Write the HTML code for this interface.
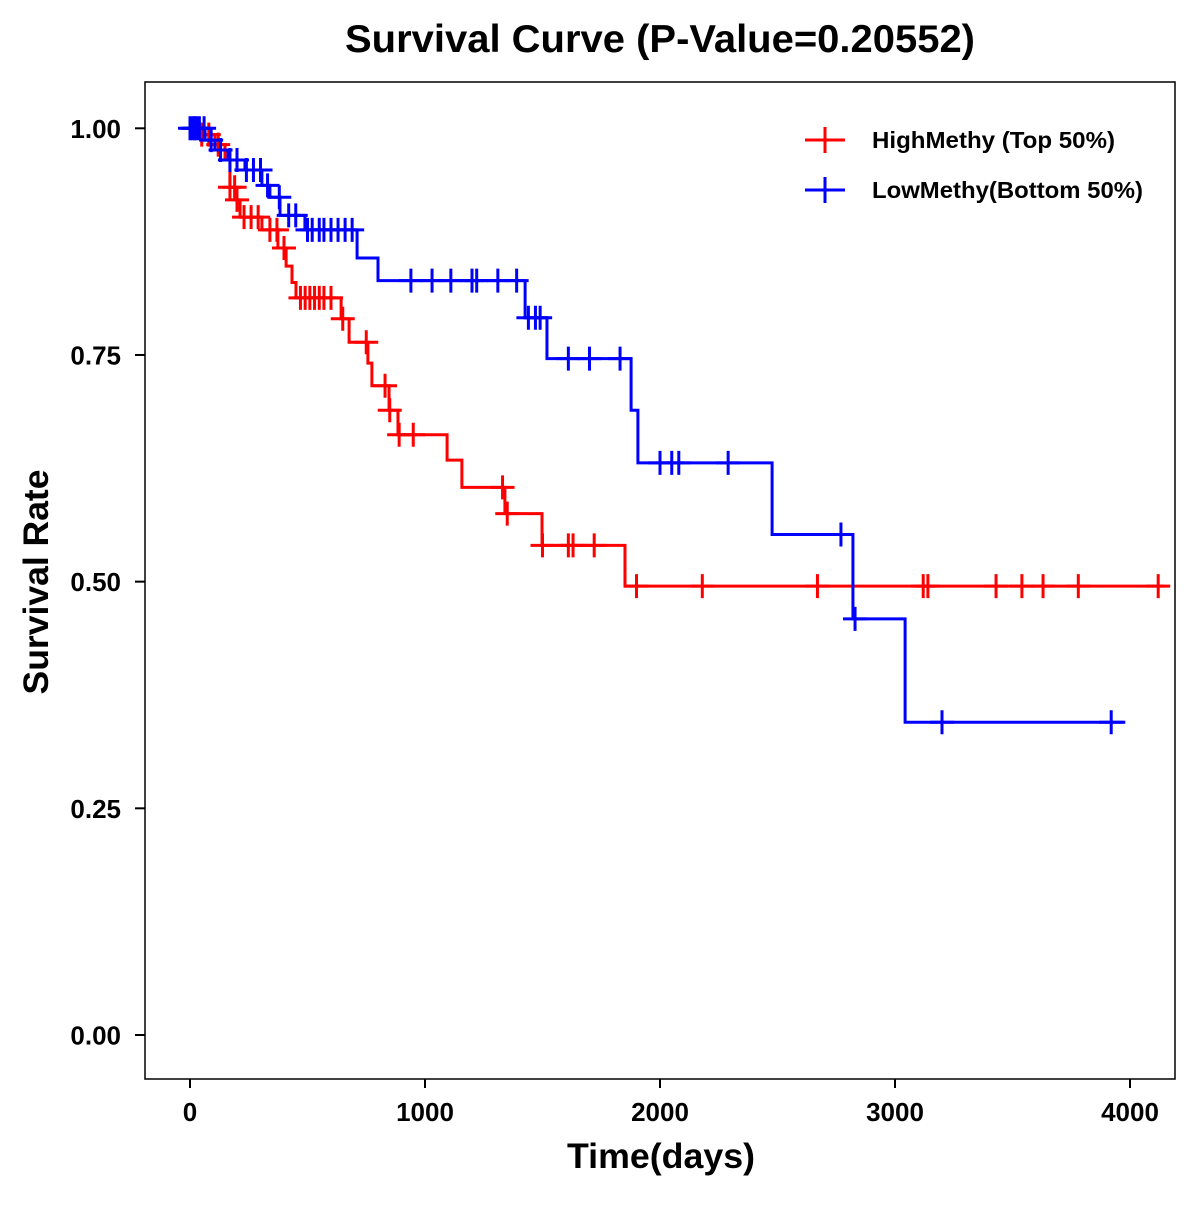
<!DOCTYPE html>
<html><head><meta charset="utf-8"><style>
body{margin:0;background:#fff}
svg text{font-family:"Liberation Sans",Arial,sans-serif;font-weight:bold}
</style></head><body>
<svg id="chart" width="1200" height="1200" viewBox="0 0 1200 1200" xmlns="http://www.w3.org/2000/svg">
<rect width="1200" height="1200" fill="#fff"/>
<text x="660" y="52" font-size="39" text-anchor="middle" textLength="630" lengthAdjust="spacingAndGlyphs">Survival Curve (P-Value=0.20552)</text>
<rect x="145" y="82" width="1030" height="997" fill="none" stroke="#000" stroke-width="1.5"/>
<g id="axes"></g>
<g id="series"></g>
<text x="661" y="1168" font-size="35" text-anchor="middle" textLength="188" lengthAdjust="spacingAndGlyphs">Time(days)</text>
<text transform="translate(48,582) rotate(-90)" font-size="35" text-anchor="middle" textLength="225" lengthAdjust="spacingAndGlyphs">Survival Rate</text>
<g>
<g>
<line x1="805" y1="140" x2="845" y2="140" stroke="#f00" stroke-width="3"/><line x1="825" y1="127" x2="825" y2="153" stroke="#f00" stroke-width="3"/>
<text x="872" y="148" font-size="23" textLength="243" lengthAdjust="spacingAndGlyphs">HighMethy (Top 50%)</text></g>
<g>
<line x1="805" y1="190" x2="845" y2="190" stroke="#00f" stroke-width="3"/><line x1="825" y1="177" x2="825" y2="203" stroke="#00f" stroke-width="3"/>
<text x="872" y="198" font-size="23" textLength="271" lengthAdjust="spacingAndGlyphs">LowMethy(Bottom 50%)</text></g>
</g>
</svg>
<script>
const xTicks=[0,1000,2000,3000,4000];
const yTicks=[0,0.25,0.5,0.75,1.0];
const yTickLabels=["0.00","0.25","0.50","0.75","1.00"];
const highTimes=[43,106,149,170,191,213,306,374,409,434,451,643,677,757,774,847,885,1094,1157,1340,1498,1851];
const highSurv=[0.993,0.982,0.965,0.935,0.921,0.902,0.888,0.868,0.848,0.830,0.813,0.790,0.764,0.741,0.716,0.689,0.662,0.634,0.604,0.575,0.540,0.495];
const highEnd=4150;
const highCensor=[20,50,80,120,170,190,200,230,260,290,340,370,400,470,490,510,530,550,570,600,650,750,830,850,890,950,1330,1350,1500,1610,1630,1720,1900,2180,2670,3120,3140,3430,3540,3630,3780,4120];
const lowTimes=[64,106,162,234,306,340,383,489,711,800,1426,1519,1877,1906,2477,2821,3043];
const lowSurv=[0.987,0.976,0.965,0.954,0.937,0.924,0.904,0.888,0.857,0.832,0.791,0.746,0.689,0.631,0.552,0.459,0.345];
const lowEnd=3980;
const lowCensor=[0,10,20,30,40,60,90,130,170,200,240,270,300,330,380,420,450,500,520,550,570,600,630,660,690,940,1030,1110,1200,1220,1310,1390,1440,1470,1490,1610,1700,1830,2000,2050,2080,2290,2770,2830,3200,3920];
const NS="http://www.w3.org/2000/svg";
const X=t=>190+t*0.235;
const Y=s=>1035-s*906.7;
function mk(tag,attrs,parent){const e=document.createElementNS(NS,tag);for(const k in attrs)e.setAttribute(k,attrs[k]);parent.appendChild(e);return e;}
const ax=document.getElementById('axes');
xTicks.forEach(t=>{
 const l=mk('line',{x1:X(t),x2:X(t),y1:1079,y2:1088,stroke:'#000','stroke-width':2},ax);
 
 
 const tx=mk('text',{x:X(t),y:1121,'font-size':26,'text-anchor':'middle'},ax);tx.textContent=t;
 
 
});
yTicks.forEach((v,i)=>{
 const l=mk('line',{x1:135,x2:145,y1:Y(v),y2:Y(v),stroke:'#000','stroke-width':2},ax);
 
 
 const tx=mk('text',{x:121,y:Y(v)+9.5,'font-size':26,'text-anchor':'end'},ax);tx.textContent=yTickLabels[i];
 
 
});
const sg=document.getElementById('series');
function survAt(times,surv,t){let s=1;for(let i=0;i<times.length;i++){if(times[i]<=t)s=surv[i];}return s;}
function draw(times,surv,end,cens,color,name){
 const g=mk('g',{},sg);
 
 
 let d='M'+X(0)+','+Y(1);
 for(let i=0;i<times.length;i++){d+=' H'+X(times[i])+' V'+Y(surv[i]);}
 d+=' H'+X(end);
 const p=mk('path',{d:d,fill:'none',stroke:color,'stroke-width':3},g);
 
 
 cens.forEach(t=>{
  const v=survAt(times,surv,t),cx=X(t),cy=Y(v);
  const m=mk('path',{d:`M${cx-12},${cy} H${cx+12} M${cx},${cy-12} V${cy+12}`,stroke:color,'stroke-width':3,fill:'none'},g);
  
  
 });
}
draw(highTimes,highSurv,highEnd,highCensor,'#f00','high-methy-curve');
draw(lowTimes,lowSurv,lowEnd,lowCensor,'#00f','low-methy-curve');
</script>
</body></html>
